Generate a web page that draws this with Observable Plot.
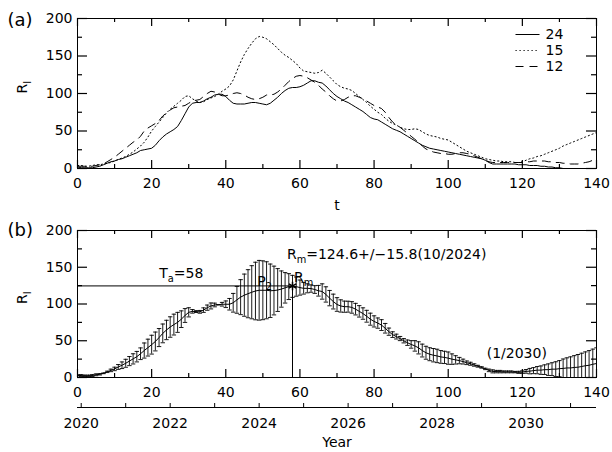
<!DOCTYPE html>
<html><head><meta charset="utf-8">
<script src="https://cdn.jsdelivr.net/npm/d3@7"></script>
<script src="https://cdn.jsdelivr.net/npm/@observablehq/plot@0.6"></script>
<style>
body{margin:0;background:#fff;}
#chart{position:relative;width:612px;height:452px;background:#fff;font-family:"DejaVu Sans",sans-serif;}
#chart svg{position:absolute;left:0;display:block;overflow:visible;}
</style></head><body><div id="chart"></div>
<script>
// ---- data (monthly index t = 0..140) ----
const seriesNames = ["24", "15", "12"];
const s24 = [2,1,1,1,1,2,3,5,7,9,
 10,12,13,15,17,19,21,24,25,26,
 27,31,37,42,46,49,52,56,64,73,
 82,87,88,88,90,93,95,98,99,99,
 96,91,87,86,86,86,87,88,88,87,
 86,85,87,91,95,100,104,107,108,108,
 109,111,114,117,117,115,114,110,105,100,
 96,93,90,88,85,82,79,76,72,68,
 66,65,62,59,56,53,51,49,46,43,
 40,37,34,31,29,27,26,25,24,23,
 22,21,20,19,18,17,16,15,14,13,
 11,8,6,6,6,6,6,6,6,5,
 5,5,4,4,4,3,3,2,2,1,
 1,0,0,-1,-1,-2,-2,-2,-3,-3,
 -3];
const s15 = [4,4,3,3,4,5,5,6,7,8,
 10,12,14,16,19,22,26,30,35,42,
 50,56,62,68,74,79,83,87,91,96,
 97,93,90,88,89,92,94,96,99,103,
 106,110,118,130,142,152,160,167,173,176,
 175,173,169,165,160,155,151,148,144,140,
 134,130,129,128,127,128,131,127,122,117,
 112,109,107,106,104,100,96,92,88,83,
 79,75,72,67,63,60,58,55,53,52,
 52,53,52,49,46,44,43,42,40,39,
 38,35,32,29,26,23,21,19,17,15,
 13,12,11,10,10,9,9,9,8,8,
 9,11,13,14,16,17,19,21,23,25,
 27,30,32,34,36,38,40,42,44,46,
 48];
const s12 = [3,3,3,3,3,4,5,6,9,12,
 15,19,23,27,31,35,38,43,50,54,
 57,60,64,70,74,78,81,82,83,84,
 87,90,91,92,96,100,103,102,99,97,
 97,98,100,101,100,98,95,93,92,93,
 95,98,98,99,102,106,111,116,120,123,
 124,123,121,118,115,111,106,102,97,93,
 90,90,92,95,97,97,95,93,90,87,
 84,82,80,75,68,62,58,55,51,47,
 43,39,35,30,26,24,22,21,20,20,
 19,19,20,21,21,20,19,17,15,13,
 11,9,8,8,8,8,8,8,8,8,
 8,9,9,10,10,10,10,9,9,8,
 8,7,7,6,6,6,7,8,9,11,
 12];
const xTicks = [0, 20, 40, 60, 80, 100, 120, 140];
const xMinor = [10, 30, 50, 70, 90, 110, 130];
const yTicks = [0, 50, 100, 150, 200];
const yMinor = [25, 75, 125, 175];
const yearLabels = [2020, 2022, 2024, 2026, 2028, 2030];
const yearTicks = [2020, 2021, 2022, 2023, 2024, 2025, 2026, 2027, 2028, 2029, 2030, 2031];
const Ta = 58, Rm = 124.6, dRm = 15.8;
const notes = [
  {text: "T_{a}=58", t: 28, r: 141, anchor: "middle"},
  {text: "R_{m}=124.6+/\u221215.8(10/2024)", t: 56.5, r: 168, anchor: "start"},
  {text: "P_{2}", t: 50.5, r: 130, anchor: "middle"},
  {text: "R_{m}", t: 58.4, r: 136, anchor: "start"},
  {text: "(1/2030)", t: 118.5, r: 32, anchor: "middle"}
];

// ---- styles ----
const dash = {"24": null, "15": "1.2,2.8", "12": "8,6"};
const series = {"24": s24, "15": s15, "12": s12};
const W = 612, mL = 77, mR = 16, FW = W - mL - mR;
const XD = [0, 140], YD = [0, 200];
const FS = 14;

const capSymbol = {draw(ctx, size) { const w = Math.sqrt(size / Math.PI); ctx.moveTo(-w, 0); ctx.lineTo(w, 0); }};
const lineSymbol = {draw(ctx) { ctx.moveTo(-12, 0); ctx.lineTo(12, 0); }};

// inward IDL-style ticks; lengths given in pixels, converted to data units
function frameTicks(FH) {
  const ky = (YD[1] - YD[0]) / FH, kx = (XD[1] - XD[0]) / FW;
  const st = {stroke: "black", strokeWidth: 1.2};
  return [
    Plot.ruleX(xTicks, {...st, x: d => d, y1: YD[0], y2: YD[0] + 8 * ky}),
    Plot.ruleX(xMinor, {...st, x: d => d, y1: YD[0], y2: YD[0] + 4 * ky}),
    Plot.ruleX(xTicks, {...st, x: d => d, y1: YD[1] - 8 * ky, y2: YD[1]}),
    Plot.ruleX(xMinor, {...st, x: d => d, y1: YD[1] - 4 * ky, y2: YD[1]}),
    Plot.ruleY(yTicks, {...st, y: d => d, x1: XD[0], x2: XD[0] + 10 * kx}),
    Plot.ruleY(yMinor, {...st, y: d => d, x1: XD[0], x2: XD[0] + 5 * kx}),
    Plot.ruleY(yTicks, {...st, y: d => d, x1: XD[1] - 10 * kx, x2: XD[1]}),
    Plot.ruleY(yMinor, {...st, y: d => d, x1: XD[1] - 5 * kx, x2: XD[1]}),
    Plot.frame({stroke: "black"}),
    Plot.axisX(xTicks, {anchor: "bottom", tickSize: 0, tickPadding: 10, label: null}),
    Plot.axisY(yTicks, {anchor: "left", tickSize: 0, tickPadding: 5, label: null}),
    Plot.text(["R_{I}"], {frameAnchor: "left", lineAnchor: "middle", dx: -55, rotate: -90, fontSize: FS})
  ];
}

function subscripts(svg) {
  const ns = "http://www.w3.org/2000/svg";
  svg.querySelectorAll("text").forEach(el => {
    const s = el.textContent;
    if (!s.includes("_{")) return;
    el.textContent = "";
    const re = /_\{([^}]*)\}/g;
    let last = 0, m, shifted = false;
    while ((m = re.exec(s))) {
      if (m.index > last) {
        const a = document.createElementNS(ns, "tspan");
        a.textContent = s.slice(last, m.index);
        if (shifted) { a.setAttribute("dy", "-4"); shifted = false; }
        el.appendChild(a);
      }
      const b = document.createElementNS(ns, "tspan");
      b.textContent = m[1];
      b.setAttribute("font-size", "70%");
      b.setAttribute("dy", "4");
      el.appendChild(b);
      shifted = true;
      last = re.lastIndex;
    }
    if (last < s.length) {
      const a = document.createElementNS(ns, "tspan");
      a.textContent = s.slice(last);
      if (shifted) a.setAttribute("dy", "-4");
      el.appendChild(a);
    }
  });
}

const chart = document.getElementById("chart");
const style = {fontFamily: "DejaVu Sans, sans-serif", fontSize: FS + "px", background: "white", color: "black", overflow: "visible"};

// ---- panel (a) ----
const legendMarks = seriesNames.flatMap((name, i) => [
  Plot.dot([name], {frameAnchor: "top-right", dx: -69, dy: 16 + 16 * i, symbol: lineSymbol, r: 3, fill: "none", stroke: "black", strokeWidth: 1, strokeDasharray: dash[name]}),
  Plot.text([name], {frameAnchor: "top-right", lineAnchor: "middle", dx: -51, dy: 16 + 16 * i, textAnchor: "start", fontSize: FS})
]);
const pa = Plot.plot({
  width: W, height: 215, marginLeft: mL, marginRight: mR, marginTop: 18, marginBottom: 47,
  style,
  x: {domain: XD},
  y: {domain: YD},
  marks: [
    ...seriesNames.map(name => Plot.lineY(series[name], {stroke: "black", strokeWidth: 1, strokeDasharray: dash[name], clip: true})),
    ...frameTicks(150),
    ...legendMarks,
    Plot.text(["t"], {frameAnchor: "bottom", lineAnchor: "middle", dy: 37, fontSize: FS}),
    Plot.text(["(a)"], {frameAnchor: "top-left", lineAnchor: "middle", dx: -70, dy: 2, textAnchor: "start", fontSize: 18})
  ]
});
pa.style.top = "0px";
chart.appendChild(pa);

// ---- panel (b): mean and spread of the three cycles ----
const stats = s24.map((_, i) => {
  const v = [s24[i], s15[i], s12[i]];
  const m = d3.mean(v);
  const sd = Math.sqrt(d3.mean(v, x => (x - m) ** 2));
  return {t: i, mean: m, lo: m - sd, hi: m + sd};
});
const pb = Plot.plot({
  width: W, height: 188, marginLeft: mL, marginRight: mR, marginTop: 15, marginBottom: 26,
  style,
  x: {domain: XD},
  y: {domain: YD},
  marks: [
    Plot.ruleX(stats, {x: "t", y1: "lo", y2: "hi", stroke: "black", strokeWidth: 0.9, clip: true}),
    Plot.dot(stats, {x: "t", y: "hi", symbol: capSymbol, r: 2.2, fill: "none", stroke: "black", strokeWidth: 0.9, clip: true}),
    Plot.dot(stats, {x: "t", y: "lo", symbol: capSymbol, r: 2.2, fill: "none", stroke: "black", strokeWidth: 0.9, clip: true}),
    Plot.lineY(stats, {x: "t", y: "mean", stroke: "black", strokeWidth: 1, clip: true}),
    Plot.ruleY([Rm], {x1: 0, x2: Ta, stroke: "black"}),
    Plot.ruleX([Ta], {y1: 0, y2: Rm, stroke: "black"}),
    Plot.dot([{t: Ta, r: Rm}], {x: "t", y: "r", symbol: "asterisk", r: 4, stroke: "black", fill: "none"}),
    Plot.text(notes, {x: "t", y: "r", text: "text", textAnchor: "start", fontSize: FS, filter: d => d.anchor === "start"}),
    Plot.text(notes, {x: "t", y: "r", text: "text", textAnchor: "middle", fontSize: FS, filter: d => d.anchor === "middle"}),
    ...frameTicks(147),
    Plot.text(["(b)"], {frameAnchor: "top-left", lineAnchor: "middle", dx: -70, dy: 0, textAnchor: "start", fontSize: 18})
  ]
});
pb.style.top = "215px";
chart.appendChild(pb);

// ---- secondary year axis ----
const py = Plot.plot({
  width: W, height: 49, marginLeft: mL, marginRight: mR, marginTop: 0, marginBottom: 45,
  style,
  x: {domain: [2020 - 1 / 12, 2020 - 1 / 12 + 140 / 12]},
  y: {domain: [0, 1], axis: null},
  marks: [
    Plot.ruleY([0], {stroke: "black"}),
    Plot.ruleX(yearTicks, {x: d => d, y1: 0, y2: 1, stroke: "black"}),
    Plot.axisX(yearLabels, {anchor: "bottom", tickSize: 0, tickPadding: 11, tickFormat: d => String(d), label: null}),
    Plot.text(["Year"], {frameAnchor: "bottom", lineAnchor: "middle", dy: 35, fontSize: FS})
  ]
});
py.style.top = "403px";
chart.appendChild(py);

[pa, pb, py].forEach(subscripts);
</script>
</body></html>
